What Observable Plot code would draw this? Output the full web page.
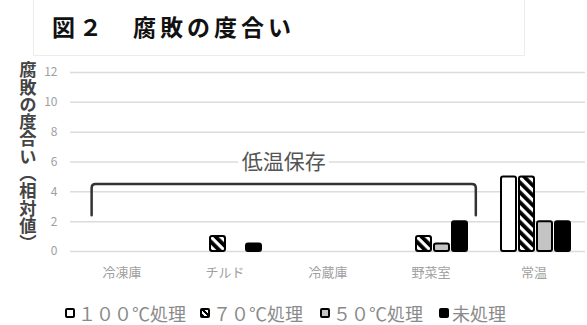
<!DOCTYPE html>
<html>
<head>
<meta charset="utf-8">
<script src="https://cdn.jsdelivr.net/npm/d3@7"></script>
<script src="https://cdn.jsdelivr.net/npm/@observablehq/plot@0.6"></script>
<style>
  html, body { margin: 0; padding: 0; background: white; }
  body { width: 587px; height: 325px; position: relative; overflow: hidden;
         font-family: "Noto Sans CJK JP", "Noto Sans", sans-serif; }
  #chart { position: absolute; left: 0; top: 0; }
  #titlebox { position: absolute; left: 33px; top: -2px; width: 490px; height: 56px;
              border: 1px solid #ececec; }
  #title { position: absolute; left: 52px; top: 9px; font-size: 23px; font-weight: bold;
           letter-spacing: 4px; color: #111; white-space: nowrap; }
  #ylabel { position: absolute; left: 19px; top: 61px; writing-mode: vertical-rl;
            font-size: 17.3px; font-weight: bold; color: #444; line-height: 1; white-space: nowrap; }
  #legend { position: absolute; left: 0; top: 302px; width: 587px; height: 22px; }
  .item { position: absolute; top: 0; display: flex; align-items: center; height: 22px; }
  .sw { width: 10px; height: 10px; box-sizing: border-box; border: 2px solid #000;
        border-radius: 2px; margin-right: 3px; }
  .lt { font-size: 18px; color: #8a8a8a; white-space: nowrap; }
</style>
</head>
<body>
<svg width="0" height="0" style="position:absolute">
  <defs>
    <pattern id="hatch" patternUnits="userSpaceOnUse" width="7" height="7" patternTransform="rotate(-45)">
      <rect width="7" height="7" fill="white"></rect>
      <rect x="0" y="0" width="3.8" height="7" fill="black"></rect>
    </pattern>
  </defs>
</svg>
<div id="chart"></div>
<div id="titlebox"></div>
<div id="title">図２　腐敗の度合い</div>
<div id="ylabel">腐敗の度合い（相対値）</div>
<div id="legend"></div>
<script>
// ---- data ----
const categories = ["冷凍庫", "チルド", "冷蔵庫", "野菜室", "常温"];
const seriesNames = ["100℃処理", "70℃処理", "50℃処理", "未処理"];
const legendLabels = ["１００℃処理", "７０℃処理", "５０℃処理", "未処理"];
const v100 = [0, 0, 0, 0, 5];
const v70 = [0, 1, 0, 1, 5];
const v50 = [0, 0, 0, 0.5, 2];
const vNone = [0, 0.5, 0, 2, 2];
const yTicks = [0, 2, 4, 6, 8, 10, 12];
const bracketLabel = "低温保存";
const bracketFrom = "冷凍庫";
const bracketTo = "野菜室";
const bracketTop = 4.5;
const bracketBottom = 2.4;
const bracketLabelY = 6.1;

const seriesFills = ["white", "url(#hatch)", "#c4c4c4", "black"];
const seriesValues = [v100, v70, v50, vNone];

const rows = [];
categories.forEach((c, i) => {
  seriesNames.forEach((s, j) => {
    rows.push({category: c, series: s, value: seriesValues[j][i]});
  });
});

const W = 587, H = 290;
const chart = Plot.plot({
  width: W,
  height: H,
  marginLeft: 68,
  marginRight: 0,
  marginTop: 72,
  marginBottom: 39,
  style: {background: "transparent", fontFamily: "'Noto Sans CJK JP', sans-serif"},
  fx: {domain: categories, padding: 0, axis: null, label: null},
  x: {domain: seriesNames, type: "band", paddingInner: 0.16, paddingOuter: 0.82, align: 0.55, axis: null},
  y: {domain: [0, 12], axis: null},
  color: {type: "ordinal", domain: seriesNames, range: seriesFills},
  marks: [
    Plot.gridY(yTicks, {stroke: "#dcdcdc", strokeOpacity: 1, strokeWidth: 1.5}),
    Plot.axisY(yTicks, {tickSize: 0, tickPadding: 13, fill: "#a0a0a0", fontSize: 12, label: null}),
    Plot.axisFx({anchor: "bottom", tickSize: 0, tickPadding: 16, fill: "#a0a0a0", fontSize: 13, label: null}),
    Plot.barY(rows, {
      fx: "category", x: "series", y: "value", fill: "series",
      stroke: "black", strokeWidth: 2, rx: 2,
      className: "databars"
    })
  ]
});
document.getElementById("chart").appendChild(chart);

// zero-valued bars are not drawn in the reference
d3.select(chart).selectAll("rect").filter(function () {
  const h = this.getAttribute("height");
  return h !== null && +h === 0 && this.closest("defs") === null;
}).remove();

// ---- bracket annotation, positioned through Plot's scales ----
const fxS = chart.scale("fx");
const yS = chart.scale("y");
const bw = fxS.bandwidth ?? ((fxS.range[1] - fxS.range[0]) / categories.length);
const x0 = fxS.apply(bracketFrom) + 0.21 * bw;
const x1 = fxS.apply(bracketTo) + 0.94 * bw;
const yt = yS.apply(bracketTop);
const yb = yS.apply(bracketBottom);
const r = 4;
const svg = d3.select(chart);
const g = svg.append("g");
g.append("path")
  .attr("d", `M${x0},${yb} L${x0},${yt + r} Q${x0},${yt} ${x0 + r},${yt} L${x1 - r},${yt} Q${x1},${yt} ${x1},${yt + r} L${x1},${yb}`)
  .attr("fill", "none").attr("stroke", "#333").attr("stroke-width", 2.5).attr("stroke-linecap", "round");
g.append("text")
  .attr("x", (x0 + x1) / 2).attr("y", yS.apply(bracketLabelY))
  .attr("text-anchor", "middle").attr("dominant-baseline", "central")
  .attr("font-size", 21).attr("fill", "#555")
  .attr("stroke", "white").attr("stroke-width", 8).attr("paint-order", "stroke")
  .text(bracketLabel);

// ---- legend ----
const legendX = [65, 200, 320, 439];
const legend = document.getElementById("legend");
legendLabels.forEach((lab, i) => {
  const it = document.createElement("div");
  it.className = "item";
  it.style.left = legendX[i] + "px";
  const sw = document.createElement("div");
  sw.className = "sw";
  if (i === 1) {
    sw.style.background = "repeating-linear-gradient(45deg, #000 0 2px, #fff 2px 4px)";
  } else {
    sw.style.background = seriesFills[i];
  }
  const t = document.createElement("span");
  t.className = "lt";
  t.textContent = lab;
  it.appendChild(sw);
  it.appendChild(t);
  legend.appendChild(it);
});
</script>
</body>
</html>
